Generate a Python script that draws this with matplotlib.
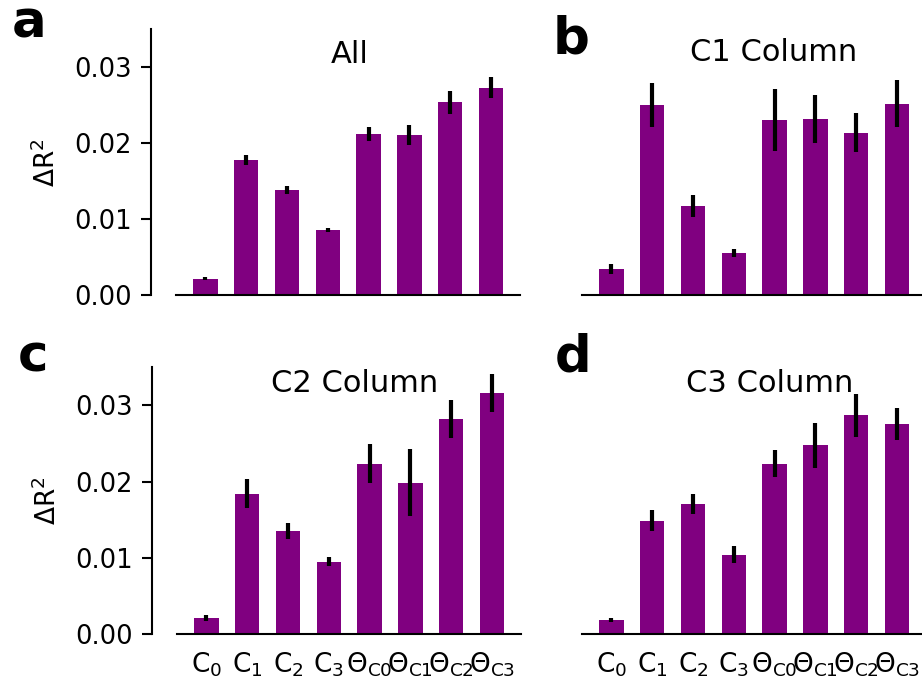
import matplotlib
matplotlib.use("Agg")
import matplotlib.pyplot as plt
import numpy as np

labels = ["C$_0$", "C$_1$", "C$_2$", "C$_3$",
          "Θ$_{\\mathrm{C0}}$", "Θ$_{\\mathrm{C1}}$", "Θ$_{\\mathrm{C2}}$", "Θ$_{\\mathrm{C3}}$"]

titles = ["All", "C1 Column", "C2 Column", "C3 Column"]
panel_letters = ["a", "b", "c", "d"]

all_mean = [0.00215, 0.0178, 0.01385, 0.0086, 0.0212, 0.0211, 0.0254, 0.0273]
all_err = [0.0002, 0.0007, 0.0005, 0.0003, 0.0009, 0.0013, 0.0015, 0.0014]

c1_mean = [0.00345, 0.0250, 0.01175, 0.00557, 0.0231, 0.0232, 0.0214, 0.0252]
c1_err = [0.00066, 0.0029, 0.0015, 0.0005, 0.0041, 0.0031, 0.0026, 0.0031]

c2_mean = [0.0021, 0.01842, 0.01355, 0.00947, 0.02237, 0.01987, 0.02816, 0.03158]
c2_err = [0.00044, 0.0019, 0.00105, 0.0006, 0.0025, 0.0044, 0.0025, 0.0025]

c3_mean = [0.00184, 0.01487, 0.0171, 0.0104, 0.02237, 0.02474, 0.02868, 0.0275]
c3_err = [0.00026, 0.0014, 0.0013, 0.0011, 0.0018, 0.0030, 0.0028, 0.0021]

means = [all_mean, c1_mean, c2_mean, c3_mean]
errs = [all_err, c1_err, c2_err, c3_err]

W, H = 922, 686
fig = plt.figure(figsize=(W / 100, H / 100), dpi=100)

# axes boxes in pixels: left, right, top, bottom
boxes = [(176, 520, 29.3, 295.3), (582, 926, 29.3, 295.3),
         (177, 521, 367.3, 634), (582, 926, 367.3, 634)]
title_pos = [(0.505, 0.874), (0.557, 0.882), (0.517, 0.906), (0.547, 0.906)]
letter_pos = [(12, 37), (553, 53.3), (18, 371.7), (555, 371.7)]

x = np.arange(len(labels))
for i in range(4):
    l, r, t, b = boxes[i]
    ax = fig.add_axes([l / W, 1 - b / H, (r - l) / W, (b - t) / H])
    ax.bar(x, means[i], width=0.6, color="purple")
    ax.errorbar(x, means[i], yerr=errs[i], fmt="none", ecolor="black",
                elinewidth=3, capsize=0)
    ax.set_xlim(-0.72, 7.71)
    ax.set_ylim(0, 0.035)
    ax.spines["top"].set_visible(False)
    ax.spines["right"].set_visible(False)
    ax.spines["bottom"].set_linewidth(1.5)
    ax.spines["left"].set_linewidth(1.5)
    ax.spines["left"].set_position(("outward", 18))
    ax.set_yticks([0, 0.01, 0.02, 0.03])
    ax.yaxis.set_major_formatter(matplotlib.ticker.FormatStrFormatter("%.2f"))
    ax.tick_params(axis="y", labelsize=18.5, length=7, width=1.5, pad=7)
    ax.set_xticks(x)
    ax.tick_params(axis="x", length=0, pad=12, labelsize=19)
    if i < 2:
        ax.set_xticklabels([])
    else:
        ax.set_xticklabels(labels)
    if i % 2 == 1:
        ax.spines["left"].set_visible(False)
        ax.set_yticks([])
    else:
        ax.set_ylabel("ΔR$^2$", fontsize=19, labelpad=9)
    tx, ty = title_pos[i]
    ax.text(tx, ty, titles[i], transform=ax.transAxes, ha="center",
            va="baseline", fontsize=22)
    lx, ly = letter_pos[i]
    fig.text(lx / W, 1 - ly / H, panel_letters[i], fontsize=37,
             fontweight="bold", ha="left", va="baseline")

fig.savefig("out.png", dpi=100)
